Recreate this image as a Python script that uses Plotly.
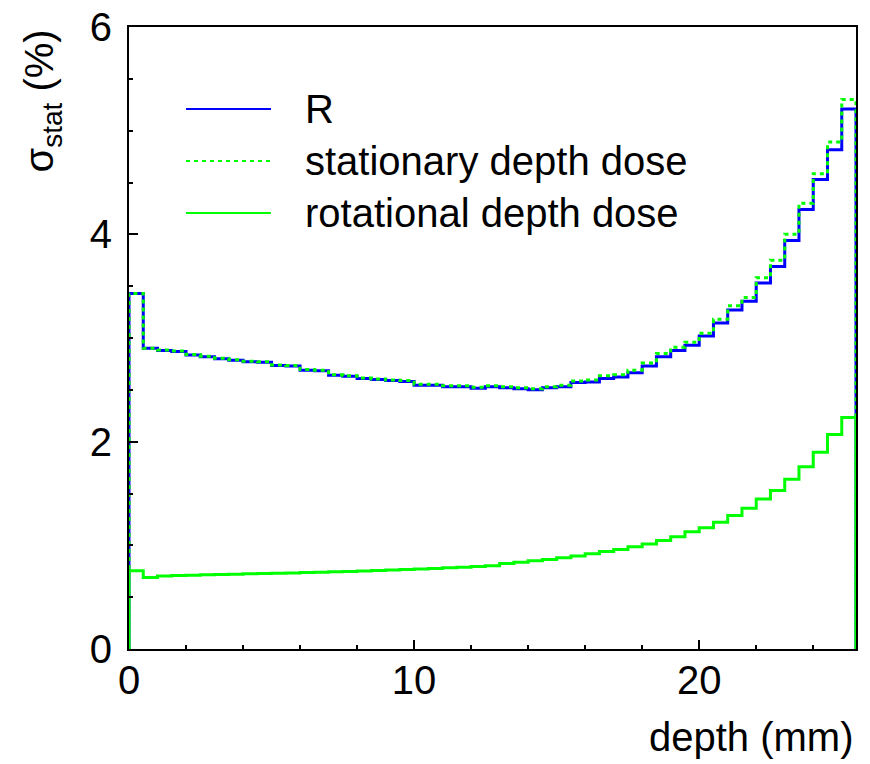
import plotly.graph_objects as go

# Histogram binning (mm)
bin_start = 0.0
bin_width = 0.5
n_bins = 51

# sigma_stat (%) per bin
R_vals = [3.43, 2.90, 2.88, 2.87, 2.835, 2.82, 2.80, 2.785, 2.77, 2.765,
          2.735, 2.73, 2.69, 2.685, 2.64, 2.63, 2.61, 2.60, 2.59, 2.58,
          2.545, 2.545, 2.53, 2.53, 2.515, 2.53, 2.52, 2.51, 2.50, 2.52,
          2.53, 2.57, 2.575, 2.61, 2.625, 2.665, 2.73, 2.82, 2.88, 2.93,
          3.02, 3.145, 3.27, 3.355, 3.53, 3.69, 3.94, 4.24, 4.53, 4.815,
          5.21]

stationary_vals = [3.43, 2.90, 2.885, 2.875, 2.84, 2.825, 2.805, 2.79, 2.775, 2.77,
                   2.74, 2.735, 2.695, 2.69, 2.645, 2.635, 2.615, 2.605, 2.595, 2.59,
                   2.555, 2.555, 2.54, 2.54, 2.525, 2.54, 2.53, 2.52, 2.51, 2.53,
                   2.545, 2.585, 2.595, 2.635, 2.645, 2.69, 2.76, 2.85, 2.91, 2.96,
                   3.045, 3.18, 3.31, 3.39, 3.58, 3.75, 4.00, 4.30, 4.585, 4.89,
                   5.30]

rotational_vals = [0.755, 0.69, 0.705, 0.708, 0.712, 0.716, 0.718, 0.721, 0.725, 0.728,
                   0.731, 0.734, 0.737, 0.740, 0.744, 0.748, 0.752, 0.757, 0.762, 0.767,
                   0.772, 0.777, 0.783, 0.789, 0.796, 0.803, 0.825, 0.838, 0.851, 0.864,
                   0.880, 0.896, 0.918, 0.941, 0.960, 0.986, 1.014, 1.047, 1.082, 1.130,
                   1.169, 1.223, 1.287, 1.358, 1.448, 1.528, 1.637, 1.759, 1.897, 2.068,
                   2.234]

series_names = ["R", "stationary depth dose", "rotational depth dose"]
x_ticks = [0, 10, 20]
y_ticks = [0, 2, 4, 6]

FONT = "Liberation Sans, Arial, Helvetica, sans-serif"
FS = 40
BLUE = "#0000FF"
GREEN = "#00FF00"

edges = [bin_start + i * bin_width for i in range(n_bins + 1)]


def outline(vals):
    # ROOT-style histogram outline: up from 0 at the first edge, down to 0 at the last
    xs = [edges[0]] + edges[:-1] + [edges[-1]]
    ys = [0] + list(vals) + [0]
    return xs, ys


fig = go.Figure()

styles = [
    (R_vals, dict(color=BLUE, width=3, dash="solid")),
    (stationary_vals, dict(color=GREEN, width=3, dash="4px,4px")),
    (rotational_vals, dict(color=GREEN, width=3, dash="solid")),
]
for name, (vals, line) in zip(series_names, styles):
    xs, ys = outline(vals)
    fig.add_trace(go.Scatter(x=xs, y=ys, mode="lines", name=name,
                             line=dict(shape="hv", **line),
                             showlegend=False, hoverinfo="skip"))

# Custom legend (long sample lines as in the reference)
leg_rows = [0.868, 0.7846, 0.701]
leg_lines = [dict(color=BLUE, width=2, dash="solid"),
             dict(color=GREEN, width=2, dash="4px,4px"),
             dict(color=GREEN, width=2, dash="solid")]
for name, yr, ln in zip(series_names, leg_rows, leg_lines):
    fig.add_shape(type="line", xref="paper", yref="paper",
                  x0=0.0784, x1=0.1953, y0=yr, y1=yr, line=ln)
    fig.add_annotation(xref="paper", yref="paper", x=0.2393, y=yr,
                       text=name, showarrow=False, xanchor="left", yanchor="middle",
                       font=dict(family=FONT, size=FS, color="black"))

# Axis titles
fig.add_annotation(xref="paper", yref="paper", x=1.0, y=-0.141,
                   text="depth (mm)", showarrow=False, xanchor="right", yanchor="middle",
                   font=dict(family=FONT, size=FS, color="black"))
fig.add_annotation(xref="paper", yref="paper", x=-0.1197, y=1.0,
                   text="σ<sub>stat</sub> (%)", showarrow=False, textangle=-90,
                   xanchor="center", yanchor="top",
                   font=dict(family=FONT, size=FS, color="black"))

fig.update_xaxes(range=[edges[0], edges[-1]], tickvals=x_ticks,
                 ticktext=[str(v) for v in x_ticks],
                 showline=True, linecolor="black", linewidth=2, mirror=True,
                 ticks="inside", ticklen=9, tickwidth=1.5, tickcolor="black",
                 minor=dict(dtick=2, ticks="inside", ticklen=4, tickcolor="black", tickwidth=1.5),
                 showgrid=False, zeroline=False, ticklabelstandoff=-5,
                 ticklabeloverflow="allow", automargin=False,
                 tickfont=dict(family=FONT, size=FS, color="black"))
fig.update_yaxes(range=[0, 6], tickvals=y_ticks,
                 ticktext=[str(v) for v in y_ticks],
                 showline=True, linecolor="black", linewidth=2, mirror=True,
                 ticks="inside", ticklen=9, tickwidth=1.5, tickcolor="black",
                 minor=dict(dtick=0.5, ticks="inside", ticklen=4, tickcolor="black", tickwidth=1.5),
                 showgrid=False, zeroline=False, ticklabelstandoff=7,
                 ticklabeloverflow="allow", automargin=False,
                 tickfont=dict(family=FONT, size=FS, color="black"))

# The page adds an 8 px body margin; margins compensate so the frame sits where the reference has it
fig.update_layout(width=870, height=764,
                  margin=dict(l=121, r=22, t=19, b=123, pad=0),
                  paper_bgcolor="white", plot_bgcolor="white",
                  font=dict(family=FONT, color="black"),
                  showlegend=False)

fig.write_html("out.html")
